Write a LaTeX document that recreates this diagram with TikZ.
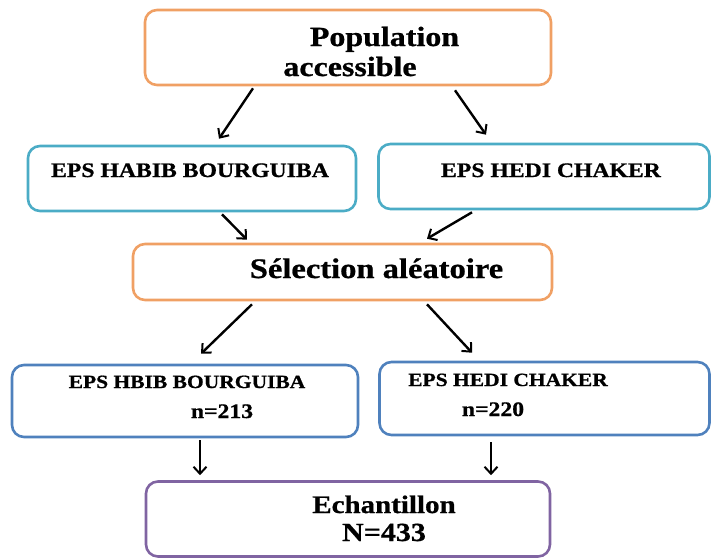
\documentclass[tikz,border=0pt]{standalone}
\usepackage{fontspec}
\setmainfont{Liberation Serif}[FakeStretch=1.15, BoldFeatures={FakeBold=0.8}]
\usetikzlibrary{arrows.meta}
\definecolor{boxorange}{RGB}{240,160,100}
\definecolor{boxaqua}{RGB}{75,172,198}
\definecolor{boxblue}{RGB}{79,129,189}
\definecolor{boxpurple}{RGB}{128,100,162}
\newcommand{\txt}[1]{\fontsize{#1}{#1}\selectfont\bfseries}

\begin{document}
\begin{tikzpicture}[x=1pt,y=-1pt,
		box/.style={draw, line width=2.6pt, rounded corners=12pt, fill=white, inner sep=0pt},
		lbl/.style={anchor=base, inner sep=0pt},
		>={Straight Barb[length=7pt,width=13pt,line width=2pt]},
		arr/.style={->, line width=2.4pt}]
		\useasboundingbox (0,0) rectangle (712,558);
		% boxes
		\node[box, draw=boxorange, minimum width=406pt, minimum height=75pt] (pop) at (348,47.5) {};
		\node[box, draw=boxaqua, minimum width=328pt, minimum height=65pt] (eps1) at (192,178.5) {};
		\node[box, draw=boxaqua, minimum width=331pt, minimum height=65pt] (eps2) at (544,176.5) {};
		\node[box, draw=boxorange, minimum width=419pt, minimum height=56pt] (sel) at (342.5,272) {};
		\node[box, draw=boxblue, minimum width=346pt, minimum height=72pt] (res1) at (185,401) {};
		\node[box, draw=boxblue, minimum width=330pt, minimum height=73pt] (res2) at (544.5,398.5) {};
		\node[box, draw=boxpurple, minimum width=404pt, minimum height=75pt] (fin) at (348,519) {};
		% texts
		\node[lbl] (popa) at (384.5,46) {\txt{27.8}Population};
		\node[lbl] (popb) at (350,76) {\txt{27.8}accessible};
		\node[lbl] (epsa) at (190,177) {\txt{20.6}EPS HABIB BOURGUIBA};
		\node[lbl] (epsb) at (551,177) {\txt{20.6}EPS HEDI CHAKER};
		\node[lbl] (sela) at (376.5,278) {\txt{28.3}S\'election al\'eatoire};
		\node[lbl] (resa) at (187,388) {\txt{18.7}EPS HBIB BOURGUIBA};
		\node[lbl] (resb) at (222,418) {\txt{20.6}n=213};
		\node[lbl] (resc) at (508,386) {\txt{18.7}EPS HEDI CHAKER};
		\node[lbl] (resd) at (493,416) {\txt{20.6}n=220};
		\node[lbl] (fina) at (384,513) {\txt{25.2}Echantillon};
		\node[lbl] (finb) at (384,541) {\txt{26.1}N=433};
		% arrows
		\draw[arr] ([xshift=-95pt,yshift=-2pt]pop.south) -- ([xshift=27pt,yshift=6pt]eps1.north);
		\draw[arr] ([xshift=107pt,yshift=-4pt]pop.south) -- ([xshift=-58pt,yshift=8pt]eps2.north);
		\draw[arr] ([xshift=30pt,yshift=-2pt]eps1.south) -- ([xshift=-95.5pt,yshift=3pt]sel.north);
		\draw[arr] ([xshift=-72pt,yshift=-2pt]eps2.south) -- ([xshift=84.5pt,yshift=4pt]sel.north);
		\draw[arr] ([xshift=-90.5pt,yshift=-3pt]sel.south) -- ([xshift=16pt,yshift=10pt]res1.north);
		\draw[arr] ([xshift=84.5pt,yshift=-3pt]sel.south) -- ([xshift=-72.5pt,yshift=8pt]res2.north);
		\draw[arr] ([xshift=15pt,yshift=-2pt]res1.south) -- ([xshift=-148pt,yshift=5pt]fin.north);
		\draw[arr] ([xshift=-53.5pt,yshift=-6pt]res2.south) -- ([xshift=143pt,yshift=5pt]fin.north);
	\end{tikzpicture}
\end{document}
